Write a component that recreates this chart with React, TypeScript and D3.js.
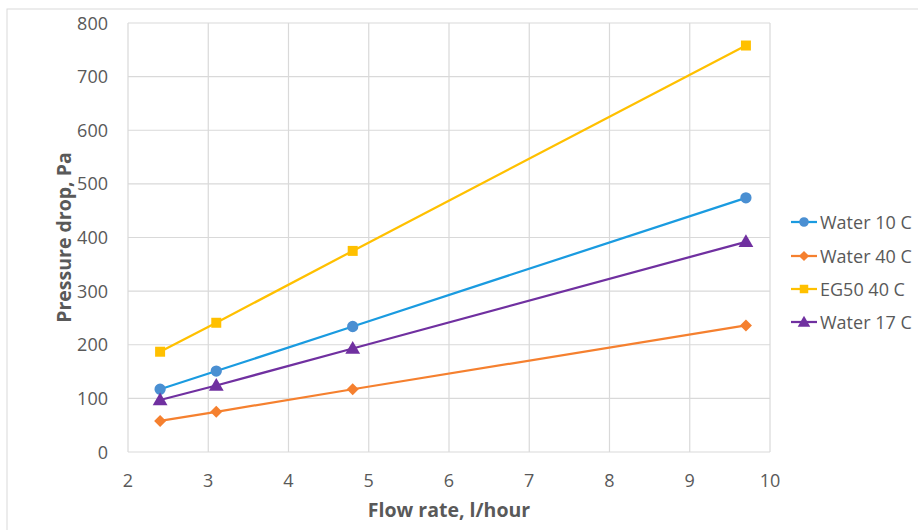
import React from "react";
import * as d3 from "d3";

const flowRates = [2.4, 3.1, 4.8, 9.7];
const water10 = [117, 151, 234, 474];
const water40 = [58, 75, 117, 236];
const eg50 = [187, 241, 375, 758];
const water17 = [97, 124, 193, 392];
const seriesNames = ["Water 10 C", "Water 40 C", "EG50 40 C", "Water 17 C"];
const xTicks = [2, 3, 4, 5, 6, 7, 8, 9, 10];
const yTicks = [0, 100, 200, 300, 400, 500, 600, 700, 800];

const W = 918, H = 530;
const left = 128, right = 770, top = 23, bottom = 452;

export default function App() {
  const x = d3.scaleLinear().domain([2, 10]).range([left, right]);
  const y = d3.scaleLinear().domain([0, 800]).range([bottom, top]);
  const series = [
    { name: seriesNames[0], values: water10, line: "#1a9be0", fill: "#4a8fd2", shape: "circle" },
    { name: seriesNames[1], values: water40, line: "#f5802f", fill: "#f5802f", shape: "diamond" },
    { name: seriesNames[2], values: eg50, line: "#ffc000", fill: "#ffc000", shape: "square" },
    { name: seriesNames[3], values: water17, line: "#7030a0", fill: "#7030a0", shape: "triangle" },
  ];
  const line = d3.line<[number, number]>().x(d => x(d[0])).y(d => y(d[1]));
  const symbolPath = (shape: string) => {
    if (shape === "circle") return d3.symbol(d3.symbolCircle, 100)()!;
    if (shape === "diamond") return d3.symbol(d3.symbolSquare, 72)()!;
    if (shape === "square") return d3.symbol(d3.symbolSquare, 100)()!;
    return d3.symbol(d3.symbolTriangle, 95)()!;
  };
  const rot = (shape: string) => (shape === "diamond" ? 45 : 0);
  const font = "'Open Sans', sans-serif";
  const legendY = [222, 256, 289, 322];
  return (
    <svg width={W} height={H} style={{ position: "absolute", left: 0, top: 0, background: "#fff" }}>
      <rect x={7} y={9} width={W} height={H} fill="#fff" stroke="#d9d9d9" strokeWidth={1} />
      {xTicks.map(t => (
        <line key={"gx" + t} x1={x(t)} x2={x(t)} y1={top} y2={bottom} stroke="#d9d9d9" strokeWidth={1.2} />
      ))}
      {yTicks.map(t => (
        <line key={"gy" + t} x1={left} x2={right} y1={y(t)} y2={y(t)} stroke="#d9d9d9" strokeWidth={1.2} />
      ))}
      {xTicks.map(t => (
        <text key={"tx" + t} x={x(t)} y={487} textAnchor="middle" fontFamily={font} fontSize={18} fill="#595959">{t}</text>
      ))}
      {yTicks.map(t => (
        <text key={"ty" + t} x={108} y={y(t) + 6.5} textAnchor="end" fontFamily={font} fontSize={18} fill="#595959">{t}</text>
      ))}
      <text x={449} y={517} textAnchor="middle" fontFamily={font} fontSize={19.5} fontWeight="bold" fill="#595959">Flow rate, l/hour</text>
      <text transform={`translate(71,${(top + bottom) / 2}) rotate(-90)`} textAnchor="middle" fontFamily={font} fontSize={19.5} fontWeight="bold" fill="#595959">Pressure drop, Pa</text>
      {series.map(s => {
        const pts = flowRates.map((f, i) => [f, s.values[i]] as [number, number]);
        return (
          <g key={s.name}>
            <path d={line(pts)!} fill="none" stroke={s.line} strokeWidth={2.25} />
            {pts.map((p, i) => (
              <path key={i} d={symbolPath(s.shape)} transform={`translate(${x(p[0])},${y(p[1]) + (s.shape === "triangle" ? 1 : 0)}) rotate(${rot(s.shape)})`} fill={s.fill} />
            ))}
          </g>
        );
      })}
      {series.map((s, i) => (
        <g key={"lg" + s.name} transform={`translate(0,${legendY[i]})`}>
          <line x1={791} x2={817} y1={0} y2={0} stroke={s.line} strokeWidth={2.25} />
          <path d={symbolPath(s.shape)} transform={`translate(804,${s.shape === "triangle" ? 1 : 0}) rotate(${rot(s.shape)}) scale(0.85)`} fill={s.fill} />
          <text x={820} y={6.5} fontFamily={font} fontSize={18} fill="#595959">{s.name}</text>
        </g>
      ))}
    </svg>
  );
}
